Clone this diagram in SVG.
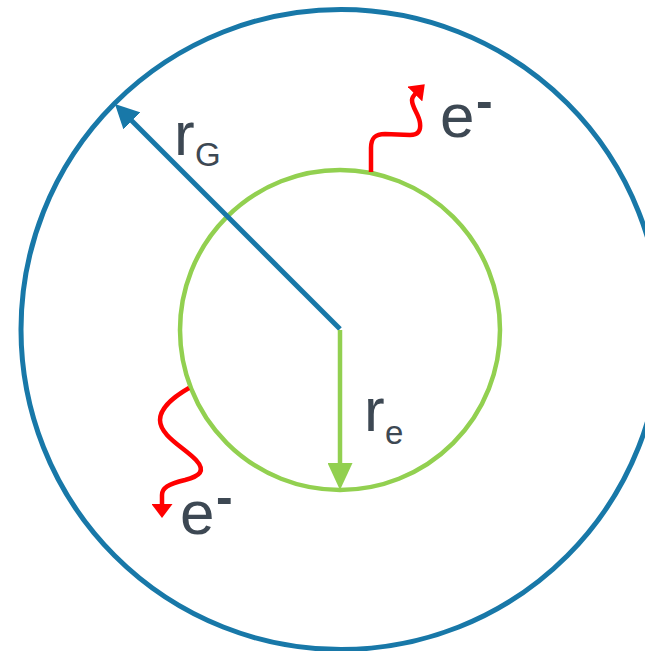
<svg xmlns="http://www.w3.org/2000/svg" width="645" height="651" viewBox="0 0 645 651">
<style>
.txt{font-family:"Liberation Sans",Arial,sans-serif;fill:#3d4853}
.minus{font-weight:bold}
.blue{fill:none;stroke:#1878a8;stroke-width:5}
.green{fill:none;stroke:#92d050;stroke-width:4.5}
.red{fill:none;stroke:#ff0000;stroke-width:4.5;stroke-linecap:butt;stroke-linejoin:round}
</style>
<defs>
<marker id="mBlue" markerUnits="userSpaceOnUse" markerWidth="24" markerHeight="24" viewBox="0 0 24 24" refX="14" refY="12" orient="auto"><path d="M0,0 L24,12 L0,24 z" fill="#1878a8"/></marker>
<marker id="mGreen" markerUnits="userSpaceOnUse" markerWidth="27" markerHeight="25" viewBox="0 0 27 25" refX="17" refY="12.5" orient="auto"><path d="M0,0 L27,12.5 L0,25 z" fill="#92d050"/></marker>
<marker id="mRed" markerUnits="userSpaceOnUse" markerWidth="14" markerHeight="21" viewBox="0 0 14 21" refX="3" refY="10.5" orient="auto"><path d="M0,0 L14,10.5 L0,21 z" fill="#ff0000"/></marker>
</defs>
<rect width="645" height="651" fill="#ffffff"/>
<g id="outer-circle"><circle cx="341" cy="329.5" r="320" class="blue"/></g>
<g id="inner-circle"><circle cx="340" cy="330" r="160" class="green"/></g>
<g id="connectors">
<line x1="340" y1="329" x2="122" y2="111" class="blue" marker-end="url(#mBlue)"/>
<line x1="340" y1="330" x2="340" y2="480" class="green" marker-end="url(#mGreen)"/>
<path d="M371,172 L371,148 C371,138 375,134 385,134 L410,135 C418,135 421,131 420,123 C419,114 412,108 412,100 C412,97 414,95 417,92" class="red" marker-end="url(#mRed)"/>
<path d="M189,388 C175,396 160,408 160,420 C160,436 185,448 196,460 C206,471 200,476 185,480 C168,484 162,488 162,495 L162,507" class="red" marker-end="url(#mRed)"/>
</g>
<g id="label-rG"><text class="txt" x="174" y="155" font-size="62">r</text><text class="txt" x="195" y="166" font-size="33">G</text></g>
<g id="label-re"><text class="txt" x="364" y="431" font-size="62">r</text><text class="txt" x="385" y="444" font-size="33">e</text></g>
<g id="label-e-top"><text class="txt" x="440" y="137" font-size="62">e</text><text class="txt minus" x="476" y="118" font-size="50">-</text></g>
<g id="label-e-bottom"><text class="txt" x="180" y="534" font-size="62">e</text><text class="txt minus" x="216" y="514" font-size="50">-</text></g>
</svg>
